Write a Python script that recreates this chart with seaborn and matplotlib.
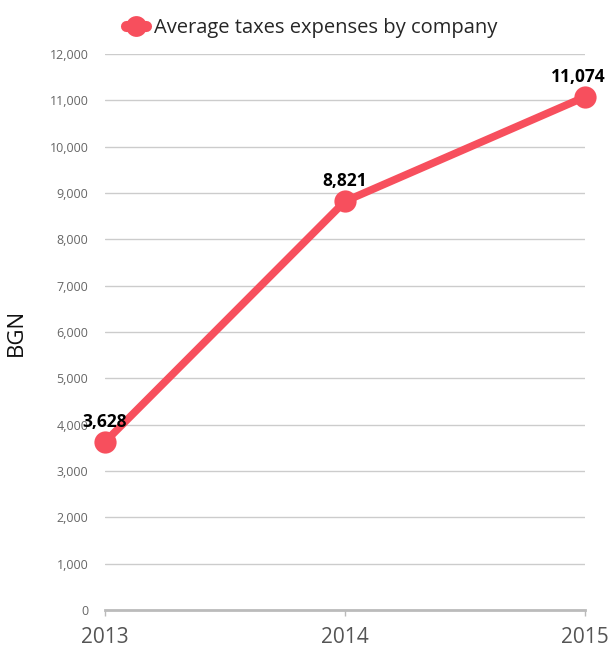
import numpy as np
import pandas as pd
import matplotlib.pyplot as plt
import seaborn as sns

years = [2013, 2014, 2015]
taxes = [3628, 8821, 11074]
series_name = "Average taxes expenses by company"

sns.set_style("white")
plt.rcParams["font.family"] = ["Open Sans", "DejaVu Sans"]

df = pd.DataFrame({"year": years, "value": taxes, "series": series_name})
red = "#f74f5d"

fig = plt.figure(figsize=(6.11, 6.54), dpi=100)
ax = fig.add_axes([105 / 611, 44 / 654, 480 / 611, 556 / 654])

sns.lineplot(data=df, x="year", y="value", hue="series", palette=[red], ax=ax,
             linewidth=5.5, marker="o", markersize=16, markeredgewidth=0, clip_on=False)

ax.set_xlim(2013, 2015)
ax.set_ylim(0, 12000)
ax.set_yticks(np.arange(0, 12001, 1000))
ax.set_yticklabels([f"{v:,}" for v in range(0, 12001, 1000)], fontsize=9, color="#666666")
ax.set_xticks(years)
ax.set_xticklabels([str(y) for y in years], fontsize=15, color="#555555")
ax.tick_params(axis="y", length=0, pad=12)
ax.tick_params(axis="x", length=4, width=1, color="#bbbbbb", direction="out", pad=8, bottom=True)
ax.yaxis.grid(True, color="#cccccc", linewidth=1)
ax.set_axisbelow(True)
for s in ["top", "right", "left"]:
    ax.spines[s].set_visible(False)
ax.spines["bottom"].set_color("#bbbbbb")
ax.spines["bottom"].set_linewidth(2)
ax.set_xlabel("")
ax.set_ylabel("BGN", fontsize=16, color="#111111", labelpad=16)

for i, (x, v) in enumerate(zip(years, taxes)):
    dx = -5 if i == len(years) - 1 else 0
    ax.annotate(f"{v:,}", (x, v), xytext=(dx, 8), textcoords="offset points",
                ha="center", va="bottom", fontsize=12.5, fontweight="bold", color="black")

leg = ax.legend(loc="upper center", bbox_to_anchor=(0.43, 1.098), frameon=False,
                fontsize=14.5, handlelength=1.0, handletextpad=0.4)
for h in leg.legend_handles:
    h.set_linewidth(8)
    h.set_markersize(15)

fig.savefig("out.png", dpi=100)
